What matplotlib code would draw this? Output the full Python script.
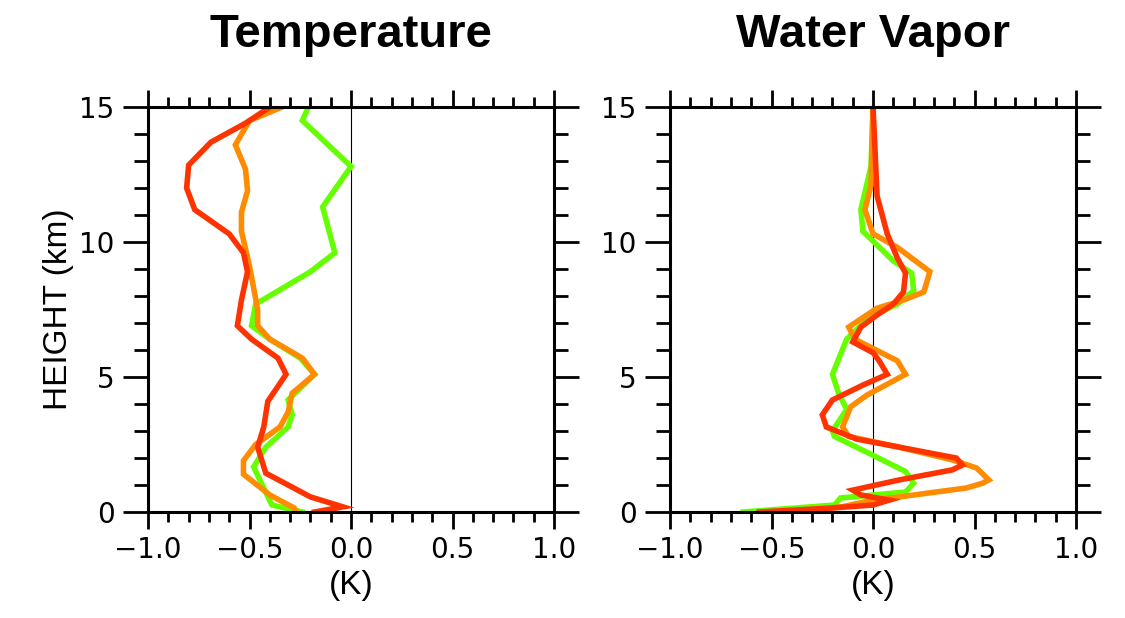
import matplotlib
matplotlib.use("Agg")
import matplotlib.pyplot as plt
from matplotlib.ticker import MultipleLocator

# Temperature panel (x in K, height in km)
temp_green_x = [-0.21, -0.24, 0.0, -0.14, -0.08, -0.20, -0.47, -0.49, -0.40, -0.25, -0.18,
                -0.31, -0.29, -0.31, -0.42, -0.48, -0.39, -0.24]
temp_green_h = [15.0, 14.5, 12.8, 11.3, 9.6, 8.9, 7.7, 6.9, 6.4, 5.7, 5.1,
                4.15, 3.6, 3.15, 2.4, 1.67, 0.26, 0.0]

temp_orange_x = [-0.34, -0.50, -0.57, -0.52, -0.51, -0.54, -0.54, -0.50, -0.46, -0.46, -0.40,
                 -0.24, -0.18, -0.29, -0.31, -0.35, -0.47, -0.53, -0.53, -0.40, -0.28, -0.27]
temp_orange_h = [15.0, 14.5, 13.6, 12.7, 11.9, 11.1, 10.4, 9.1, 7.5, 6.9, 6.4,
                 5.7, 5.1, 4.4, 3.7, 3.15, 2.5, 1.9, 1.4, 0.63, 0.15, 0.0]

temp_red_x = [-0.40, -0.52, -0.69, -0.80, -0.81, -0.77, -0.60, -0.53, -0.51, -0.54, -0.56,
              -0.49, -0.36, -0.32, -0.41, -0.43, -0.46, -0.42, -0.20, -0.04, -0.18]
temp_red_h = [15.0, 14.4, 13.7, 12.85, 12.0, 11.2, 10.3, 9.6, 8.9, 7.85, 6.9,
              6.4, 5.7, 5.1, 4.1, 3.15, 2.4, 1.44, 0.56, 0.19, 0.0]

# Water vapor panel
wv_green_x = [0.0, -0.01, -0.06, -0.05, 0.10, 0.19, 0.20, 0.12, -0.02, -0.13, -0.20,
              -0.17, -0.13, -0.20, -0.19, 0.0, 0.16, 0.20, 0.16, 0.0, -0.16, -0.19, -0.64]
wv_green_h = [15.0, 12.8, 11.2, 10.4, 9.3, 8.85, 8.2, 7.7, 7.2, 6.4, 5.1,
              4.4, 3.8, 3.0, 2.8, 2.1, 1.5, 1.07, 0.74, 0.63, 0.52, 0.26, 0.0]

wv_orange_x = [0.0, -0.01, -0.04, 0.0, 0.12, 0.28, 0.25, 0.15, 0.02, -0.12, -0.09, 0.12,
               0.16, -0.03, -0.11, -0.15, -0.12, 0.13, 0.39, 0.51, 0.57, 0.54, 0.46,
               0.13, 0.0, -0.15, -0.40]
wv_orange_h = [15.0, 12.1, 11.2, 10.3, 9.8, 8.9, 8.15, 7.85, 7.55, 6.85, 6.4, 5.6,
               5.1, 4.33, 3.9, 3.15, 2.8, 2.4, 1.93, 1.63, 1.19, 1.07, 0.89,
               0.56, 0.44, 0.2, 0.0]

wv_red_x = [0.0, 0.02, 0.07, 0.12, 0.16, 0.15, 0.10, 0.02, -0.06, -0.10, 0.0, 0.03,
            0.07, -0.05, -0.20, -0.25, -0.23, -0.08, 0.20, 0.41, 0.44, 0.39, 0.13,
            -0.10, -0.06, 0.08, 0.0, -0.20, -0.56]
wv_red_h = [15.0, 11.7, 10.3, 9.4, 8.85, 8.15, 7.7, 7.3, 6.85, 6.3, 5.9, 5.6,
            5.1, 4.7, 4.15, 3.6, 3.15, 2.7, 2.3, 2.0, 1.74, 1.56, 1.19,
            0.81, 0.63, 0.44, 0.26, 0.15, 0.0]

titles = ["Temperature", "Water Vapor"]
GREEN = "#66ff00"
ORANGE = "#ff8c00"
RED = "#ff3300"

fig = plt.figure(figsize=(11.25, 6.18), dpi=100)
ax1 = fig.add_axes([0.1316, 0.1715, 0.3609, 0.6553])
ax2 = fig.add_axes([0.5956, 0.1715, 0.3609, 0.6553])

panels = [
    (ax1, [(temp_green_x, temp_green_h, GREEN), (temp_orange_x, temp_orange_h, ORANGE),
           (temp_red_x, temp_red_h, RED)]),
    (ax2, [(wv_green_x, wv_green_h, GREEN), (wv_orange_x, wv_orange_h, ORANGE),
           (wv_red_x, wv_red_h, RED)]),
]

for i, (ax, lines) in enumerate(panels):
    ax.axvline(0.0, color="black", linewidth=0.8, zorder=1)
    for x, h, c in lines:
        ax.plot(x, h, color=c, linewidth=4.0, solid_joinstyle="miter", zorder=2)
    ax.set_xlim(-1.0, 1.0)
    ax.set_ylim(0, 15)
    ax.xaxis.set_major_locator(MultipleLocator(0.5))
    ax.xaxis.set_minor_locator(MultipleLocator(0.1))
    ax.yaxis.set_major_locator(MultipleLocator(5))
    ax.yaxis.set_minor_locator(MultipleLocator(1))
    ax.xaxis.set_major_formatter(plt.FuncFormatter(lambda v, p: f"{v:.1f}".replace("-", "\u2212")))
    ax.tick_params(which="both", direction="out", top=True, right=True, width=2.0,
                   labelsize=20, labelfontfamily="DejaVu Sans")
    # y ticks are longer than x ticks
    ax.tick_params(axis="x", which="major", length=12.5, pad=5)
    ax.tick_params(axis="x", which="minor", length=7.5)
    ax.tick_params(axis="y", which="major", length=18, pad=6)
    ax.tick_params(axis="y", which="minor", length=10)
    for s in ax.spines.values():
        s.set_linewidth(2.2)
    ax.set_xlabel("(K)", fontsize=24, family="Liberation Sans", labelpad=4)
    fig.text(0.1316 + 0.3609 / 2 if i == 0 else 0.5956 + 0.3609 / 2, 0.924, titles[i],
             ha="center", va="baseline", fontsize=34, fontweight="bold",
             family="Liberation Sans")

ax1.set_ylabel("HEIGHT (km)", fontsize=24, family="Liberation Sans", labelpad=4)

fig.savefig("out.png", dpi=100)
